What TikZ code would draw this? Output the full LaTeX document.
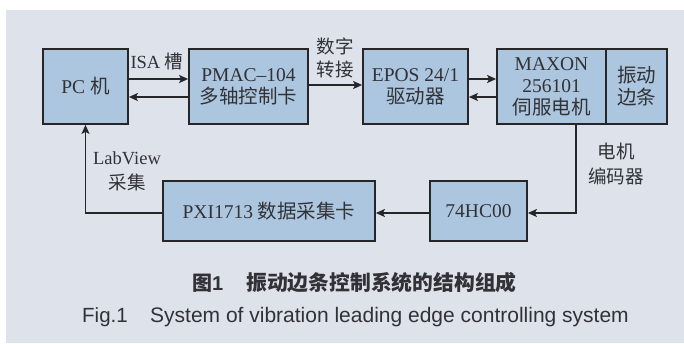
\documentclass[tikz,border=0pt]{standalone}
\usepackage{fontspec}
\setmainfont{Liberation Serif}
\newfontfamily\cjk{Noto Sans CJK SC}
\newfontfamily\capfont{Liberation Sans}
\usetikzlibrary{arrows.meta}
\newcommand{\zh}[1]{{\cjk #1}}
\definecolor{panel}{RGB}{221,226,235}
\definecolor{boxfill}{RGB}{172,198,224}
\definecolor{ink}{RGB}{50,50,54}
\definecolor{edge}{RGB}{38,38,40}
\begin{document}
\begin{tikzpicture}[x=1pt,y=-1pt,
  blk/.style={draw=edge,fill=boxfill,line width=1.8pt,inner sep=0pt,align=center,
    text=ink,font=\fontsize{19.5}{22}\selectfont},
  lbl/.style={inner sep=0pt,align=center,text=ink,font=\fontsize{18.5}{22}\selectfont},
  arr/.style={draw=edge,line width=1.5pt,-{Stealth[length=9pt,width=8pt,inset=2pt]}},
  ln/.style={draw=edge,line width=1.5pt}]
\useasboundingbox (0,0) rectangle (684,343);
\fill[white] (0,0) rectangle (684,343);
\fill[panel] (6,10) rectangle (684,343);
% boxes
\node[blk,minimum width=85pt,minimum height=75pt] (pc) at (85.5,86.5) {PC \zh{机}};
\node[blk,minimum width=119pt,minimum height=75pt] (pmac) at (248.5,86.5) {PMAC--104\\\zh{多轴控制卡}};
\node[blk,minimum width=105pt,minimum height=75pt] (epos) at (415.5,86.5) {EPOS 24/1\\\zh{驱动器}};
\node[blk,minimum width=109pt,minimum height=75pt] (maxon) at (551.5,86.5) {MAXON\\256101\\\zh{伺服电机}};
\node[blk,minimum width=61pt,minimum height=75pt] (edgebar) at (636.5,86.5) {\zh{振动}\\\zh{边条}};
\node[blk,minimum width=212pt,minimum height=60pt] (pxi) at (269,211) {PXI1713 \zh{数据采集卡}};
\node[blk,minimum width=97pt,minimum height=60pt] (hc) at (478.5,211) {74HC00};
% connectors
\draw[arr] ([yshift=7.5pt]pc.east) -- ([yshift=7.5pt]pmac.west);
\draw[arr] ([yshift=-10.5pt]pmac.west) -- ([yshift=-10.5pt]pc.east);
\draw[arr] ([yshift=1.5pt]pmac.east) -- ([yshift=1.5pt]epos.west);
\draw[arr] ([yshift=7.5pt]epos.east) -- ([yshift=7.5pt]maxon.west);
\draw[arr] ([yshift=-10.5pt]maxon.west) -- ([yshift=-10.5pt]epos.east);
\draw[arr] ([xshift=24.5pt]maxon.south) |- ([yshift=-2pt]hc.east);
\draw[arr] ([yshift=-2pt]hc.west) -- ([yshift=-2pt]pxi.east);
\draw[arr] ([yshift=-2pt]pxi.west) -| (pc.south);
% labels
\node[lbl] (isa) at (157,61) {ISA \zh{槽}};
\node[lbl] (dig) at (335,58) {\zh{数字}\\[1pt]\zh{转接}};
\node[lbl] (lab) at (127,171) {LabView\\[3pt]\zh{采集}};
\node[lbl] (enc) at (616,164) {\zh{电机}\\[3pt]\zh{编码器}};
% caption
\node[anchor=west,inner sep=0pt,text=ink,font=\cjk\bfseries\fontsize{20}{22}\selectfont] (cap1a) at (192,283) {图\capfont\bfseries 1};
\node[anchor=west,inner sep=0pt,text=ink,font=\cjk\bfseries\fontsize{20.8}{22}\selectfont] (cap1b) at (246,283) {振动边条控制系统的结构组成};
\node[anchor=west,inner sep=0pt,text=ink,font=\capfont\fontsize{20.5}{22}\selectfont] (cap2a) at (82,317) {Fig.1};
\node[anchor=west,inner sep=0pt,text=ink,font=\capfont\fontsize{21}{22}\selectfont] (cap2b) at (150,317) {System of vibration leading edge controlling system};
\end{tikzpicture}
\end{document}
